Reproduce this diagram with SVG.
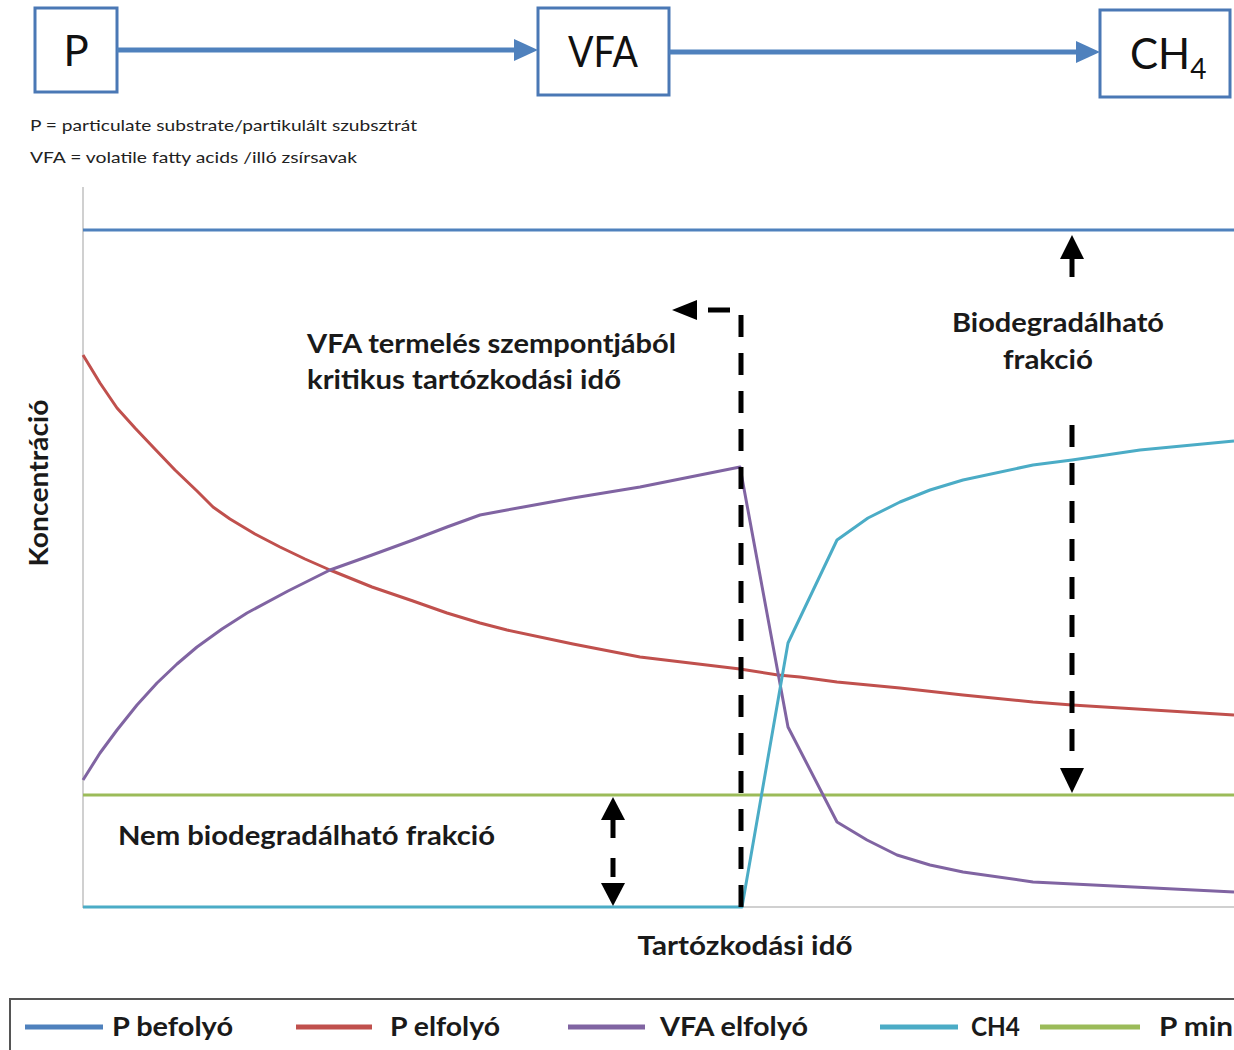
<svg xmlns="http://www.w3.org/2000/svg" width="1234" height="1050" viewBox="0 0 1234 1050">
<style>
.box{fill:#fff;stroke:#4a78b5;stroke-width:3}
.boxt{font-family:Lato,"Open Sans",sans-serif;font-size:42px;fill:#111}
.note{font-family:Lato,"Open Sans",sans-serif;font-size:15px;fill:#222}
.lbl{font-family:Lato,"Open Sans",sans-serif;font-size:27px;font-weight:bold;fill:#1a1a1a}
.leg{font-family:Lato,"Open Sans",sans-serif;font-size:26px;font-weight:bold;fill:#1a1a1a}
.c{fill:none;stroke-width:3;stroke-linejoin:round}
.dash{fill:none;stroke:#000;stroke-width:5;stroke-dasharray:22 16}
</style>
<rect width="1234" height="1050" fill="#fff"/>
<g id="nodeP"><rect class="box" x="35" y="8" width="82" height="84"/><text class="boxt" x="76" y="66" text-anchor="middle">P</text></g>
<g id="nodeVFA"><rect class="box" x="538" y="8" width="131" height="87"/><text class="boxt" x="603" y="67" text-anchor="middle" textLength="70" lengthAdjust="spacingAndGlyphs">VFA</text></g>
<g id="nodeCH4"><rect class="box" x="1100" y="10" width="130" height="87"/><text class="boxt" x="1130" y="69">CH<tspan font-size="28" dy="10">4</tspan></text></g>
<g id="connectors">
<line x1="117" y1="50" x2="518" y2="50" stroke="#4f81bd" stroke-width="5"/>
<polygon points="538,50 514,39 514,61" fill="#4f81bd"/>
<line x1="669" y1="52" x2="1080" y2="52" stroke="#4f81bd" stroke-width="5"/>
<polygon points="1100,52 1076,41 1076,63" fill="#4f81bd"/>
</g>
<text class="note" x="30" y="131" textLength="387" lengthAdjust="spacingAndGlyphs">P = particulate substrate/partikulált szubsztrát</text>
<text class="note" x="30" y="163" textLength="327" lengthAdjust="spacingAndGlyphs">VFA = volatile fatty acids /illó zsírsavak</text>
<g id="axes">
<line x1="83" y1="187" x2="83" y2="908" stroke="#d0d0d0" stroke-width="2"/>
<line x1="83" y1="907" x2="1234" y2="907" stroke="#d0d0d0" stroke-width="2"/>
</g>
<g id="curves">
<line class="c" x1="83" y1="230" x2="1234" y2="230" stroke="#4f81bd"/>
<line class="c" x1="83" y1="795" x2="1234" y2="795" stroke="#9bbb59"/>
<polyline class="c" stroke="#c0504d" points="83,355 100,383 117,408 135,428 153,447 175,470 197,491 213,507 230,519 255,534 280,547 305,559 330,570 372,587 413,601 447,613 480,623 507,630 573,644 640,657 690,663 740,669 778,675 800,677 837,682 900,688 963,695 1033,702 1072,705 1234,715"/>
<polyline class="c" stroke="#8064a2" points="83,780 100,753 117,730 137,705 157,683 177,664 197,647 222,629 247,613 288,591 330,570 372,555 413,540 447,527 480,515 507,510 573,498 640,487 690,477 740,467 788,727 837,822 867,840 897,855 930,865 963,872 1033,882 1234,892"/>
<polyline class="c" stroke="#4bacc6" points="83,907 742,907 788,643 837,540 868,518 900,502 930,490 963,480 1033,465 1072,460 1140,450 1234,441"/>
</g>
<g id="critical">
<path class="dash" d="M741,907 V310 H700"/>
<polygon points="672,310 697,300 697,320" fill="#000"/>
</g>
<g id="nonbio-arrow">
<polygon points="613,797 601,820 625,820" fill="#000"/>
<line x1="613" y1="818" x2="613" y2="838" stroke="#000" stroke-width="5"/>
<line x1="613" y1="858" x2="613" y2="877" stroke="#000" stroke-width="5"/>
<polygon points="613,906 601,883 625,883" fill="#000"/>
</g>
<g id="bio-arrow">
<polygon points="1072,235 1060,259 1084,259" fill="#000"/>
<line x1="1072" y1="257" x2="1072" y2="277" stroke="#000" stroke-width="5"/>
<path class="dash" d="M1072,425 V766"/>
<polygon points="1072,793 1060,768 1084,768" fill="#000"/>
</g>
<g id="labels">
<text class="lbl" x="307" y="353" textLength="369" lengthAdjust="spacingAndGlyphs">VFA termelés szempontjából</text>
<text class="lbl" x="307" y="389" textLength="314" lengthAdjust="spacingAndGlyphs">kritikus tartózkodási idő</text>
<text class="lbl" x="1058" y="332" text-anchor="middle" textLength="212" lengthAdjust="spacingAndGlyphs">Biodegradálható</text>
<text class="lbl" x="1048" y="369" text-anchor="middle" textLength="90" lengthAdjust="spacingAndGlyphs">frakció</text>
<text class="lbl" x="118" y="845" textLength="377" lengthAdjust="spacingAndGlyphs">Nem biodegradálható frakció</text>
<text class="lbl" x="745" y="955" text-anchor="middle" textLength="215" lengthAdjust="spacingAndGlyphs">Tartózkodási idő</text>
<text class="lbl" transform="translate(48,483) rotate(-90)" text-anchor="middle" textLength="167" lengthAdjust="spacingAndGlyphs">Koncentráció</text>
</g>
<g id="legend">
<rect x="10" y="999" width="1240" height="60" fill="#fff" stroke="#555" stroke-width="2"/>
<line x1="25" y1="1027" x2="103" y2="1027" stroke="#4f81bd" stroke-width="5"/>
<text class="leg" x="112" y="1036" textLength="121" lengthAdjust="spacingAndGlyphs">P befolyó</text>
<line x1="296" y1="1027" x2="372" y2="1027" stroke="#c0504d" stroke-width="5"/>
<text class="leg" x="390" y="1036" textLength="110" lengthAdjust="spacingAndGlyphs">P elfolyó</text>
<line x1="568" y1="1027" x2="645" y2="1027" stroke="#8064a2" stroke-width="5"/>
<text class="leg" x="660" y="1036" textLength="148" lengthAdjust="spacingAndGlyphs">VFA elfolyó</text>
<line x1="880" y1="1027" x2="958" y2="1027" stroke="#4bacc6" stroke-width="5"/>
<text class="leg" x="971" y="1036" textLength="49" lengthAdjust="spacingAndGlyphs">CH4</text>
<line x1="1040" y1="1027" x2="1140" y2="1027" stroke="#9bbb59" stroke-width="5"/>
<text class="leg" x="1159" y="1036" textLength="74" lengthAdjust="spacingAndGlyphs">P min</text>
</g>
</svg>
